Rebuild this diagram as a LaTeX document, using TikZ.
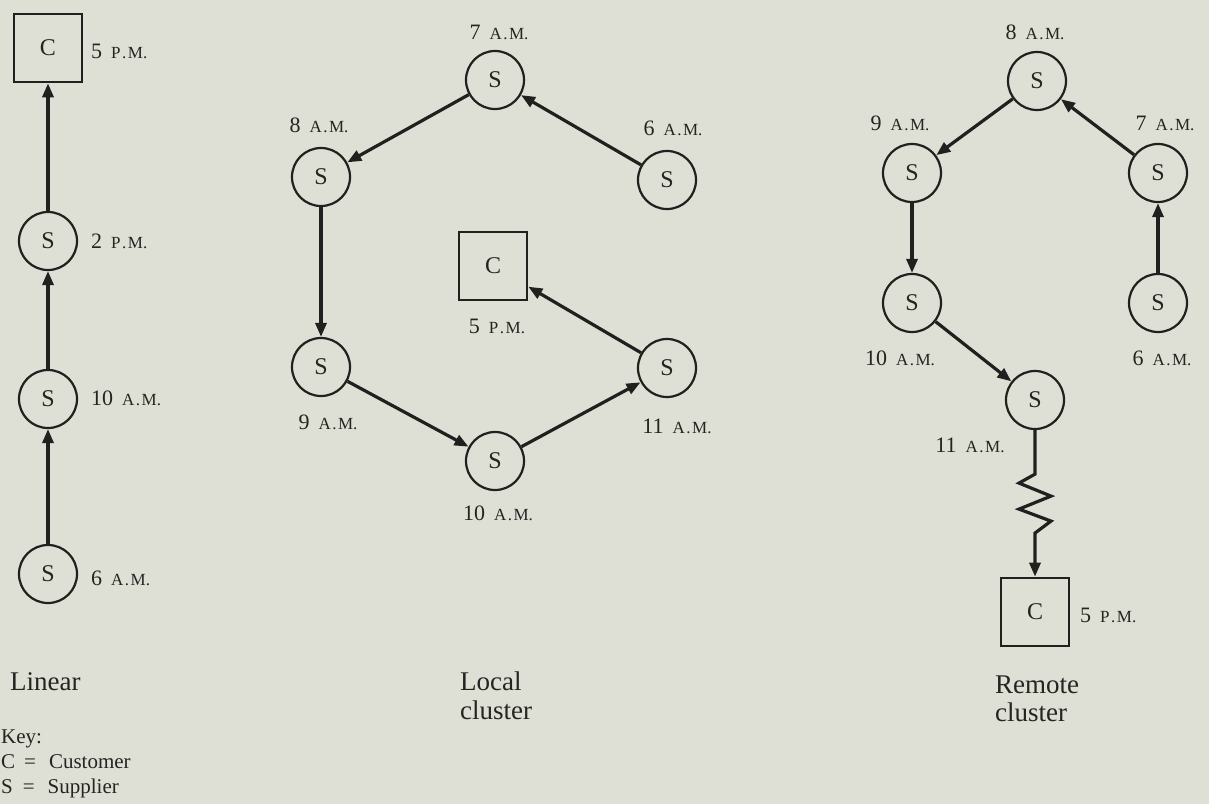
\documentclass[tikz,border=0pt]{standalone}
\usepackage{fontspec}
\setmainfont{Liberation Serif}
\usetikzlibrary{arrows.meta}

\definecolor{paper}{RGB}{222,224,213}
\definecolor{ink}{RGB}{32,32,30}
\definecolor{textink}{RGB}{36,36,34}

% time labels: figure, then small capitals
\newcommand{\AMx}{{\fontsize{17}{17}\selectfont A\kern1.5pt.\kern1.5pt M.}}
\newcommand{\PMx}{{\fontsize{17}{17}\selectfont P\kern1.5pt.\kern1.5pt M.}}
\newcommand{\hr}[2]{{\fontsize{22}{22}\selectfont #1}\hspace{9pt}#2}

\tikzset{
  supplier/.style={circle, draw=ink, line width=2.2pt, minimum size=58pt, inner sep=0pt,
                   text=textink, font=\fontsize{24}{24}\selectfont},
  customer/.style={rectangle, draw=ink, line width=2.6pt, minimum size=68pt, inner sep=0pt,
                   text=textink, font=\fontsize{24}{24}\selectfont},
  tlabel/.style={inner sep=0pt, text=textink},
  caption/.style={inner sep=0pt, anchor=base west, text=textink, font=\fontsize{27}{27}\selectfont},
  keytext/.style={inner sep=0pt, anchor=base west, text=textink, font=\fontsize{21}{21}\selectfont},
  conn/.style={draw=ink, line width=3.2pt, -{Triangle[length=14pt,width=11pt]}}
}

\begin{document}
\begin{tikzpicture}[x=1pt,y=-1pt]
  \fill[paper] (0,0) rectangle (1209,804);
  \useasboundingbox (0,0) rectangle (1209,804);

  % ---------------- linear chain ----------------
  \node[customer] (lc)  at (48,48)  {C};
  \node[supplier] (l2)  at (48,241) {S};
  \node[supplier] (l10) at (48,399) {S};
  \node[supplier] (l6)  at (48,574) {S};

  \node[tlabel, anchor=west] (lc-t)  at (91,51)  {\hr{5}{\PMx}};
  \node[tlabel, anchor=west] (l2-t)  at (91,241) {\hr{2}{\PMx}};
  \node[tlabel, anchor=west] (l10-t) at (91,398) {\hr{10}{\AMx}};
  \node[tlabel, anchor=west] (l6-t)  at (91,578) {\hr{6}{\AMx}};

  \draw[conn] (l6) -- (l10);
  \draw[conn] (l10) -- (l2);
  \draw[conn] (l2) -- (lc);

  \node[caption] (cap-lin) at (10,690) {Linear};

  % ---------------- local cluster ----------------
  \node[supplier] (a7)  at (495,80)  {S};
  \node[supplier] (a8)  at (321,177) {S};
  \node[supplier] (a6)  at (667,180) {S};
  \node[customer] (ac)  at (493,266) {C};
  \node[supplier] (a9)  at (321,367) {S};
  \node[supplier] (a11) at (667,368) {S};
  \node[supplier] (a10) at (495,461) {S};

  \node[tlabel] (a7-t)  at (499,32)  {\hr{7}{\AMx}};
  \node[tlabel] (a8-t)  at (319,125) {\hr{8}{\AMx}};
  \node[tlabel] (a6-t)  at (673,128) {\hr{6}{\AMx}};
  \node[tlabel] (ac-t)  at (497,326) {\hr{5}{\PMx}};
  \node[tlabel] (a9-t)  at (328,422) {\hr{9}{\AMx}};
  \node[tlabel] (a11-t) at (677,426) {\hr{11}{\AMx}};
  \node[tlabel] (a10-t) at (498,513) {\hr{10}{\AMx}};

  \draw[conn] (a6) -- (a7);
  \draw[conn] (a7) -- (a8);
  \draw[conn] (a8) -- (a9);
  \draw[conn] (a9) -- (a10);
  \draw[conn] (a10) -- (a11);
  \draw[conn] (a11) -- (ac);

  \node[caption] (cap-loc1) at (460,690) {Local};
  \node[caption] (cap-loc2) at (460,719) {cluster};

  % ---------------- remote cluster ----------------
  \node[supplier] (r8)  at (1037,81)  {S};
  \node[supplier] (r9)  at (912,173)  {S};
  \node[supplier] (r7)  at (1158,173) {S};
  \node[supplier] (r10) at (912,303)  {S};
  \node[supplier] (r6)  at (1158,303) {S};
  \node[supplier] (r11) at (1035,400) {S};
  \node[customer] (rc)  at (1035,612) {C};

  \node[tlabel] (r8-t)  at (1035,32)  {\hr{8}{\AMx}};
  \node[tlabel] (r9-t)  at (900,123)  {\hr{9}{\AMx}};
  \node[tlabel] (r7-t)  at (1165,123) {\hr{7}{\AMx}};
  \node[tlabel] (r10-t) at (900,358)  {\hr{10}{\AMx}};
  \node[tlabel] (r6-t)  at (1162,358) {\hr{6}{\AMx}};
  \node[tlabel] (r11-t) at (970,445)  {\hr{11}{\AMx}};
  \node[tlabel, anchor=west] (rc-t) at (1080,615) {\hr{5}{\PMx}};

  \draw[conn] (r6) -- (r7);
  \draw[conn] (r7) -- (r8);
  \draw[conn] (r8) -- (r9);
  \draw[conn] (r9) -- (r10);
  \draw[conn] (r10) -- (r11);
  % long-distance link, drawn as a spring
  \draw[conn, line join=miter] (r11.south) -- ++(0,44) -- ++(-16,9) -- ++(32,13)
       -- ++(-32,13) -- ++(32,12) -- ++(-16,12) -- (rc.north);

  \node[caption] (cap-rem1) at (995,693) {Remote};
  \node[caption] (cap-rem2) at (995,721) {cluster};

  % ---------------- key ----------------
  \node[keytext] (key0) at (1,743) {Key:};
  \node[keytext] (key1) at (1,768) {C\hspace{9pt}=\hspace{13pt}Customer};
  \node[keytext] (key2) at (1,793) {S\hspace{10pt}=\hspace{13pt}Supplier};
\end{tikzpicture}
\end{document}
